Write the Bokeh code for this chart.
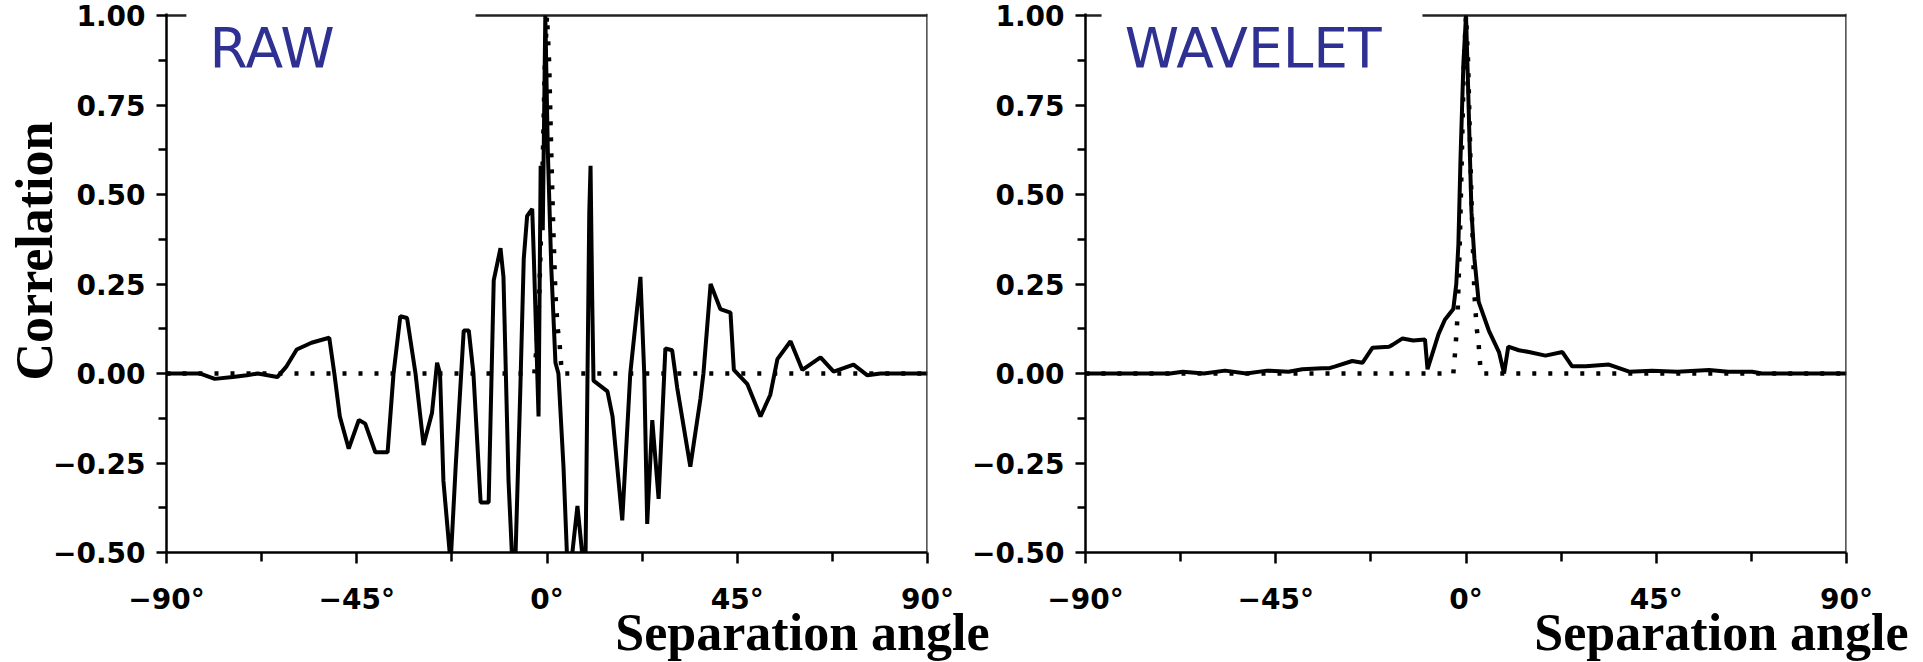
from bokeh.plotting import figure
from bokeh.layouts import row
from bokeh.models import Range1d, FixedTicker, Label, Span, Title
from bokeh.embed import file_html
from bokeh.resources import INLINE

# ---------------- data ----------------
raw_angle = [-90, -82, -78.6, -74.3, -71, -68.4, -63.8, -61.6, -59.2, -55.7, -53, -51.5,
             -50.3, -49, -46.9, -44.5, -43, -40.6, -37.7, -36.3, -34.7, -33.1, -31.1,
             -29.2, -27.2, -26.0, -25.3, -24.5, -22.8, -21.6, -19.7, -18.5, -17.4, -15.7,
             -13.8, -12.6, -11.0, -10.3, -9.1, -8.2, -7.5, -6.3, -5.5, -4.7, -3.5, -3.1,
             -2.0, -1.5, -1.0, -0.4, 0.2, 1.0, 2.0, 2.7, 3.9, 4.8, 6.0, 7.2, 8.3, 9.1,
             10.0, 10.3, 10.7, 11.0, 14.3, 15.5, 17.8, 19.7, 22.1, 23.0, 23.7, 24.9,
             26.4, 28.0, 29.6, 30.8, 33.9, 36.3, 37.0, 38.7, 41.0, 43.4, 44.2, 47.4,
             50.5, 52.8, 54.5, 57.6, 60.4, 64.7, 67.8, 72.5, 75.8, 78.9, 90]
raw_corr = [0.0, 0.0, -0.015, -0.01, -0.005, 0.0, -0.01, 0.02, 0.067, 0.086, 0.095, 0.10,
            0.0, -0.12, -0.21, -0.13, -0.14, -0.22, -0.22, 0.0, 0.16, 0.155, 0.0,
            -0.20, -0.11, 0.03, 0.0, -0.30, -0.53, -0.26, 0.12, 0.12, 0.0, -0.36,
            -0.36, 0.26, 0.35, 0.27, -0.30, -0.53, -0.53, -0.04, 0.32, 0.44, 0.46, 0.32,
            -0.12, 0.58, 0.40, 1.0, 0.62, 0.30, 0.03, 0.0, -0.26, -0.53, -0.50, -0.37, -0.50, -0.53,
            0.45, 0.58, 0.20, -0.02, -0.05, -0.12, -0.41, 0.0, 0.27, 0.0, -0.42, -0.13,
            -0.35, 0.07, 0.065, -0.04, -0.26, -0.07, 0.0, 0.25, 0.18, 0.17, 0.01, -0.03,
            -0.12, -0.06, 0.04, 0.09, 0.01, 0.045, 0.005, 0.025, -0.005, 0.0, 0.0]

wav_angle = [-90, -70, -67, -62, -57, -52, -47, -42, -38.7, -34, -32.3, -30.9, -26.9,
             -24.5, -22.1, -18.2, -17.4, -15.0, -12.5, -9.7, -9.1, -6.5, -5.0, -3.0,
             -2.3, -1.8, -1.3, -0.6, 0.0, 0.5, 0.9, 1.3, 2.0, 3.0, 5.4, 7.8, 9.0, 10.0,
             12.5, 14.9, 18.8, 22.8, 25.1, 28.3, 33.8, 38.6, 44, 50, 57.5, 62, 67.7, 70, 90]
wav_corr = [0.0, 0.0, 0.005, 0.0, 0.008, 0.0, 0.008, 0.005, 0.012, 0.015, 0.015, 0.02, 0.035,
            0.03, 0.072, 0.075, 0.08, 0.098, 0.092, 0.095, 0.012, 0.11, 0.15, 0.18,
            0.25, 0.36, 0.60, 0.87, 1.0, 0.80, 0.62, 0.45, 0.32, 0.20, 0.12, 0.06, 0.0, 0.075,
            0.065, 0.06, 0.05, 0.06, 0.02, 0.02, 0.025, 0.005, 0.008, 0.005, 0.01, 0.005, 0.005, 0.0, 0.0]

model_angle = [-90, -3.0, -2.5, -2.0, -1.5, -1.0, -0.5, 0.0, 0.5, 1.0, 1.5, 2.0, 2.5, 3.0, 3.5, 90]
model_corr = [0.0, 0.0, 0.07, 0.16, 0.35, 0.60, 0.87, 1.0, 0.87, 0.62, 0.40, 0.22, 0.13, 0.08, 0.0, 0.0]

x_ticks = [-90, -45, 0, 45, 90]
x_minor = [-67.5, -22.5, 22.5, 67.5]
x_tick_labels = ["\u221290\u00b0", "\u221245\u00b0", "0\u00b0", "45\u00b0", "90\u00b0"]
y_ticks = [-0.5, -0.25, 0, 0.25, 0.5, 0.75, 1.0]
y_minor = [-0.375, -0.125, 0.125, 0.375, 0.625, 0.875]
y_tick_labels = ["\u22120.50", "\u22120.25", "0.00", "0.25", "0.50", "0.75", "1.00"]
panel_titles = ["RAW", "WAVELET"]
x_label = "Separation angle"
y_label = "Correlation"

X0, X1 = -90, 90
Y0, Y1 = -0.5, 1.0056          # a hair above 1.0 so that the top border is not clipped


def make_panel(angle, corr, title, gap, left_border, right_border, with_ylabel):
    p = figure(frame_width=761, frame_height=539,
               x_range=Range1d(X0, X1), y_range=Range1d(Y0, Y1),
               output_backend="svg", toolbar_location=None,
               min_border_left=left_border, min_border_right=right_border,
               min_border_top=13, min_border_bottom=110)
    p.outline_line_color = None
    p.grid.visible = False
    p.background_fill_color = None
    p.border_fill_color = None

    xa = p.xaxis[0]
    ya = p.yaxis[0]
    xa.ticker = FixedTicker(ticks=x_ticks, minor_ticks=x_minor)
    xa.major_label_overrides = {t: s for t, s in zip(x_ticks, x_tick_labels)}
    ya.ticker = FixedTicker(ticks=y_ticks, minor_ticks=y_minor)
    ya.major_label_overrides = {t: s for t, s in zip(y_ticks, y_tick_labels)}
    for ax in (xa, ya):
        ax.axis_line_width = 2.5
        ax.axis_line_color = "black"
        ax.major_tick_line_width = 2.5
        ax.minor_tick_line_width = 2.5
        ax.major_tick_line_color = "black"
        ax.minor_tick_line_color = "black"
        ax.major_tick_in = 0
        ax.minor_tick_in = 0
        ax.major_label_text_font = "DejaVu Sans"
        ax.major_label_text_font_style = "bold"
        ax.major_label_text_font_size = "28px"
        ax.major_label_text_color = "black"
    xa.major_tick_out = 11
    xa.minor_tick_out = 9
    xa.major_label_standoff = 19
    ya.major_tick_out = 10
    ya.minor_tick_out = 8
    ya.major_label_standoff = 11

    # frame top border with a gap behind the panel title, and right border
    p.line([X0, gap[0]], [1.0, 1.0], line_color="#222222", line_width=2.5)
    p.line([gap[1], X1], [1.0, 1.0], line_color="#222222", line_width=2.5)
    p.add_layout(Span(location=X1, dimension="height", line_color="#222222", line_width=2.5))

    # expected (dotted) and measured (solid) correlation
    p.line(model_angle, model_corr, line_color="black", line_width=4.5, line_dash="4 12")
    p.line(angle, corr, line_color="black", line_width=4)

    p.add_layout(Label(x=gap[0] + 5.5, y=0.91, text=title, text_font="DejaVu Sans",
                       text_font_size="55px", text_color="#2e3192",
                       text_baseline="alphabetic", text_align="left"))

    p.add_layout(Title(text=x_label, align="right", offset=-62, standoff=-33,
                       text_font="Liberation Serif", text_font_style="bold",
                       text_font_size="52px", text_color="black"), "below")
    if with_ylabel:
        p.add_layout(Title(text=y_label, align="left", offset=172, standoff=-26,
                           text_font="Liberation Serif", text_font_style="bold",
                           text_font_size="52px", text_color="black"), "left")
    return p


p1 = make_panel(raw_angle, raw_corr, panel_titles[0], (-85.3, -16.9), 166, 73, True)
p2 = make_panel(wav_angle, wav_corr, panel_titles[1], (-86.2, -10.3), 115, 70, False)
p2.styles = {"margin-left": "-32px"}

layout = row(p1, p2)
open("out.html", "w").write(file_html(layout, INLINE))
